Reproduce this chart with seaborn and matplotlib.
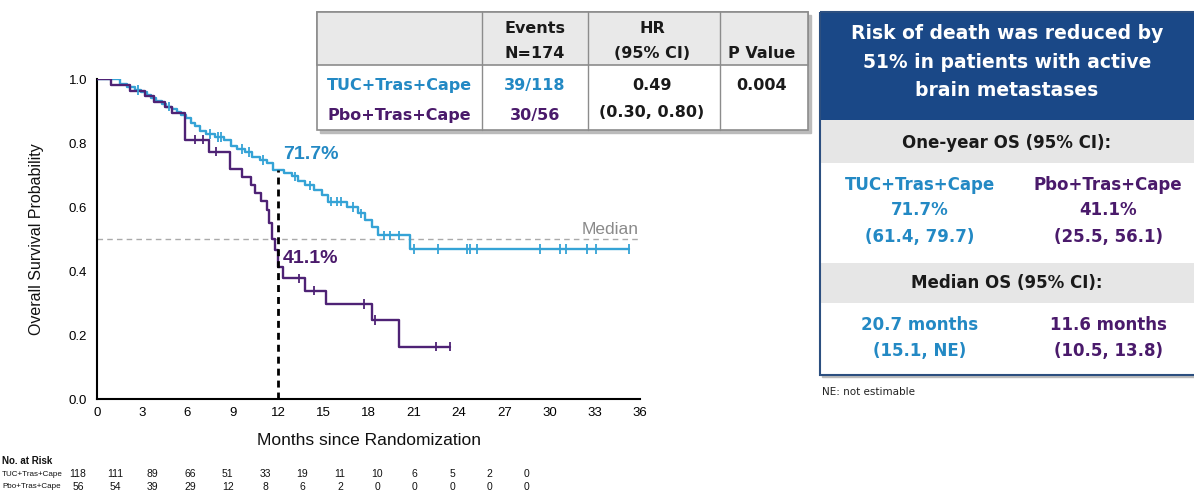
import numpy as np
import pandas as pd
import matplotlib
matplotlib.use("Agg")
import matplotlib.pyplot as plt
import seaborn as sns
from matplotlib.patches import Rectangle

sns.set_theme(style="white")
plt.rcParams['font.family'] = ['Liberation Sans', 'DejaVu Sans']

# ---------------- data ----------------
arms = ["TUC+Tras+Cape", "Pbo+Tras+Cape"]

tuc_times = [0, 1.5, 2.0, 2.5, 2.9, 3.3, 3.6, 3.9, 4.3, 4.6, 5.0, 5.3, 5.6, 5.9,
             6.2, 6.5, 6.8, 7.2, 7.8, 8.4, 8.9, 9.3, 9.8, 10.3, 10.8, 11.3, 11.7,
             12.4, 12.9, 13.3, 13.8, 14.4, 14.9, 15.3, 16.6, 17.3, 17.8, 18.2,
             18.6, 20.75, 35.3]
tuc_surv = [1.0, 0.983, 0.975, 0.966, 0.958, 0.949, 0.940, 0.932, 0.923, 0.914,
            0.905, 0.896, 0.887, 0.878, 0.862, 0.853, 0.836, 0.828, 0.819, 0.810,
            0.790, 0.781, 0.772, 0.756, 0.747, 0.736, 0.717, 0.707, 0.696, 0.680,
            0.668, 0.653, 0.638, 0.617, 0.600, 0.580, 0.560, 0.538, 0.512, 0.469,
            0.469]
tuc_censor = [2.7, 4.8, 7.5, 8.0, 8.2, 9.6, 10.1, 11.0, 13.1, 14.1, 15.5, 15.9,
              16.2, 17.0, 17.5, 19.0, 19.4, 20.0, 21.0, 22.6, 24.5, 24.7, 25.2,
              29.4, 30.7, 31.1, 32.5, 33.1, 35.3]

pbo_times = [0, 0.9, 2.2, 3.2, 3.8, 4.5, 5.0, 5.85, 7.4, 8.8, 9.6, 10.2, 10.5,
             10.9, 11.25, 11.4, 11.6, 11.8, 12.0, 12.35, 13.8, 15.2, 18.2, 20.0,
             23.4]
pbo_surv = [1.0, 0.982, 0.964, 0.946, 0.929, 0.911, 0.893, 0.810, 0.773, 0.720,
            0.695, 0.670, 0.645, 0.620, 0.590, 0.550, 0.500, 0.465, 0.411, 0.377,
            0.338, 0.297, 0.247, 0.163, 0.163]
pbo_censor = [6.5, 7.0, 7.9, 13.4, 14.4, 17.7, 18.4, 22.5, 23.4]

x_ticks = list(range(0, 37, 3))
y_ticks = [0.0, 0.2, 0.4, 0.6, 0.8, 1.0]

risk_tuc = [118, 111, 89, 66, 51, 33, 19, 11, 10, 6, 5, 2, 0]
risk_pbo = [56, 54, 39, 29, 12, 8, 6, 2, 0, 0, 0, 0, 0]

landmark = 12
one_year_tuc = 0.717
one_year_pbo = 0.411
median_level = 0.5

tbl_header = ["", "Events\nN=174", "HR\n(95% CI)", "P Value"]
tbl_tuc = ["TUC+Tras+Cape", "39/118", "0.49", "0.004"]
tbl_pbo = ["Pbo+Tras+Cape", "30/56", "(0.30, 0.80)", ""]

box_title = "Risk of death was reduced by\n51% in patients with active\nbrain metastases"
box_sec1 = "One-year OS (95% CI):"
box_tuc1 = ["TUC+Tras+Cape", "71.7%", "(61.4, 79.7)"]
box_pbo1 = ["Pbo+Tras+Cape", "41.1%", "(25.5, 56.1)"]
box_sec2 = "Median OS (95% CI):"
box_tuc2 = ["20.7 months", "(15.1, NE)"]
box_pbo2 = ["11.6 months", "(10.5, 13.8)"]

# ---------------- colours ----------------
C_TUC_LINE = "#35A3D6"
C_PBO_LINE = "#4E2275"
C_TUC_TXT = "#2389C4"
C_PBO_TXT = "#4A1A6B"
NAVY = "#1A4887"

# ---------------- frames ----------------
curve_rows = []
for arm, t, s in [(arms[0], tuc_times, tuc_surv), (arms[1], pbo_times, pbo_surv)]:
    for ti, si in zip(t, s):
        curve_rows.append({"arm": arm, "time": ti, "surv": si})
df_curve = pd.DataFrame(curve_rows)

cens_rows = []
for arm, t, s, c in [(arms[0], tuc_times, tuc_surv, tuc_censor),
                     (arms[1], pbo_times, pbo_surv, pbo_censor)]:
    t = np.asarray(t); s = np.asarray(s)
    for ci in c:
        idx = np.searchsorted(t, ci, side="right") - 1
        cens_rows.append({"arm": arm, "time": ci, "surv": s[idx]})
df_cens = pd.DataFrame(cens_rows)

palette = {arms[0]: C_TUC_LINE, arms[1]: C_PBO_LINE}

# ---------------- figure ----------------
W, H = 1194, 499
fig = plt.figure(figsize=(W / 100, H / 100), dpi=100)
fig.patch.set_facecolor("white")

ax = fig.add_axes([97 / W, 100 / H, 543 / W, 320 / H])
ax.set_facecolor("white")

ax.axhline(median_level, color="#AAAAAA", lw=1.0, ls=(0, (4, 3)), zorder=1)
sns.lineplot(data=df_curve, x="time", y="surv", hue="arm", palette=palette,
             drawstyle="steps-post", estimator=None, sort=False, legend=False,
             linewidth=1.7, ax=ax, zorder=3)
sns.scatterplot(data=df_cens, x="time", y="surv", hue="arm", palette=palette,
                marker="|", s=45, linewidth=1.3, legend=False, ax=ax, zorder=4)
ax.vlines(landmark, 0, one_year_tuc, colors="black", lw=2.0,
          linestyles=(0, (2.5, 1.8)), zorder=5)

ax.text(landmark + 0.35, 0.763, f"{one_year_tuc*100:.1f}%", color=C_TUC_TXT,
        fontsize=14, fontweight="bold", va="center", ha="left")
ax.text(landmark + 0.3, 0.44, f"{one_year_pbo*100:.1f}%", color=C_PBO_TXT,
        fontsize=14, fontweight="bold", va="center", ha="left")
ax.text(35.9, 0.53, "Median", color="#8A8A8A", fontsize=12.5, ha="right",
        va="center")

ax.set_xlim(0, 36)
ax.set_ylim(0, 1.0)
ax.set_xticks(x_ticks)
ax.set_xticklabels([str(v) for v in x_ticks])
ax.set_yticks(y_ticks)
ax.set_yticklabels([f"{v:.1f}" for v in y_ticks])
for sp in ["top", "right"]:
    ax.spines[sp].set_visible(False)
for sp in ["left", "bottom"]:
    ax.spines[sp].set_color("black")
    ax.spines[sp].set_linewidth(1.5)
ax.tick_params(axis="x", direction="inout", length=6, width=1.3, colors="black",
               labelsize=9.5, pad=3)
ax.tick_params(axis="y", direction="out", length=5, width=1.3, colors="black",
               labelsize=9.5, pad=2)
ax.set_xlabel("Months since Randomization", fontsize=12.5, labelpad=10,
              color="#111111")
ax.set_ylabel("Overall Survival Probability", fontsize=11.5, labelpad=18,
              color="#111111")
ax.grid(False)

# ---------------- overlay (tables, at-risk) ----------------
ov = fig.add_axes([0, 0, 1, 1], zorder=10)
ov.set_xlim(0, W)
ov.set_ylim(H, 0)
ov.axis("off")
ov.patch.set_alpha(0)

TF = ["DejaVu Sans"]

# number at risk
ov.text(2, 461, "No. at Risk", fontsize=7, fontweight="bold", va="center",
        ha="left", color="#111111")
ov.text(2, 474, arms[0], fontsize=5.8, va="center", ha="left", color="#111111")
ov.text(2, 487, arms[1], fontsize=5.8, va="center", ha="left", color="#111111")
xs = np.linspace(78, 527, len(risk_tuc))
for xv, a, b in zip(xs, risk_tuc, risk_pbo):
    ov.text(xv, 474, str(a), fontsize=7.5, va="center", ha="center", color="#111111")
    ov.text(xv, 487, str(b), fontsize=7.5, va="center", ha="center", color="#111111")

# top-left table
tx0, tx1, ty0, ty1, thead = 317, 808, 12, 130, 65
ov.add_patch(Rectangle((tx0 + 3, ty0 + 3), tx1 - tx0, ty1 - ty0, color="#BBBBBB",
                       zorder=1))
ov.add_patch(Rectangle((tx0, ty0), tx1 - tx0, ty1 - ty0, facecolor="white",
                       edgecolor="#8C8C8C", lw=1.2, zorder=2))
ov.add_patch(Rectangle((tx0, ty0), tx1 - tx0, thead - ty0, facecolor="#E9E9E9",
                       edgecolor="#8C8C8C", lw=1.2, zorder=3))
col_x = [482, 588, 720]
for cx in col_x:
    ov.plot([cx, cx], [ty0, ty1], color="#8C8C8C", lw=1.0, zorder=4)
centers = [399, 535, 652, 762]
for i, h in enumerate(tbl_header):
    if h:
        lines = h.split("\n")
        ys = [28, 53] if len(lines) == 2 else [53]
        for ln, yv in zip(lines, ys):
            ov.text(centers[i], yv, ln, family=TF, fontsize=11.5, fontweight="bold",
                    ha="center", va="center", color="#1A1A1A", zorder=5)
row_cols = [C_TUC_TXT, C_TUC_TXT, "#1A1A1A", "#1A1A1A"]
for i, v in enumerate(tbl_tuc):
    ov.text(centers[i], 85, v, family=TF, fontsize=11.5, fontweight="bold",
            ha="center", va="center", color=row_cols[i], zorder=5)
row_cols2 = [C_PBO_TXT, C_PBO_TXT, "#1A1A1A", "#1A1A1A"]
for i, v in enumerate(tbl_pbo):
    if v:
        yv = 112 if i == 2 else 115
        ov.text(centers[i], yv, v, family=TF, fontsize=11.5, fontweight="bold",
                ha="center", va="center", color=row_cols2[i], zorder=5)

# right box
bx0, bx1 = 820, 1200
ov.add_patch(Rectangle((bx0, 12), bx1 - bx0, 108, facecolor=NAVY, edgecolor=NAVY,
                       zorder=2))
ov.add_patch(Rectangle((bx0, 120), bx1 - bx0, 43, facecolor="#E6E6E6",
                       edgecolor="none", zorder=2))
ov.add_patch(Rectangle((bx0, 163), bx1 - bx0, 100, facecolor="white",
                       edgecolor="none", zorder=2))
ov.add_patch(Rectangle((bx0, 263), bx1 - bx0, 40, facecolor="#E6E6E6",
                       edgecolor="none", zorder=2))
ov.add_patch(Rectangle((bx0, 303), bx1 - bx0, 72, facecolor="white",
                       edgecolor="none", zorder=2))
ov.add_patch(Rectangle((bx0, 12), bx1 - bx0, 363, facecolor="none",
                       edgecolor="#2C4F80", lw=1.5, zorder=4))
ov.add_patch(Rectangle((bx0 + 2, 375), bx1 - bx0, 2, color="#BBBBBB", zorder=1))

for ln, yv in zip(box_title.split("\n"), [33, 62, 90]):
    ov.text(1007, yv, ln, family=TF, fontsize=13.5, fontweight="bold",
            color="white", ha="center", va="center", zorder=5)
ov.text(1007, 143, box_sec1, family=TF, fontsize=12, fontweight="bold",
        color="#1A1A1A", ha="center", va="center", zorder=5)
for v, yv in zip(box_tuc1, [185, 210, 237]):
    ov.text(920, yv, v, family=TF, fontsize=12, fontweight="bold",
            color=C_TUC_TXT, ha="center", va="center", zorder=5)
for v, yv in zip(box_pbo1, [185, 210, 237]):
    ov.text(1108, yv, v, family=TF, fontsize=12, fontweight="bold",
            color=C_PBO_TXT, ha="center", va="center", zorder=5)
ov.text(1007, 283, box_sec2, family=TF, fontsize=12, fontweight="bold",
        color="#1A1A1A", ha="center", va="center", zorder=5)
for v, yv in zip(box_tuc2, [325, 351]):
    ov.text(920, yv, v, family=TF, fontsize=12, fontweight="bold",
            color=C_TUC_TXT, ha="center", va="center", zorder=5)
for v, yv in zip(box_pbo2, [325, 351]):
    ov.text(1108, yv, v, family=TF, fontsize=12, fontweight="bold",
            color=C_PBO_TXT, ha="center", va="center", zorder=5)
ov.text(822, 392, "NE: not estimable", family=TF, fontsize=7.5,
        color="#222222", ha="left", va="center", zorder=5)

fig.savefig("out.png", dpi=100, facecolor="white")
